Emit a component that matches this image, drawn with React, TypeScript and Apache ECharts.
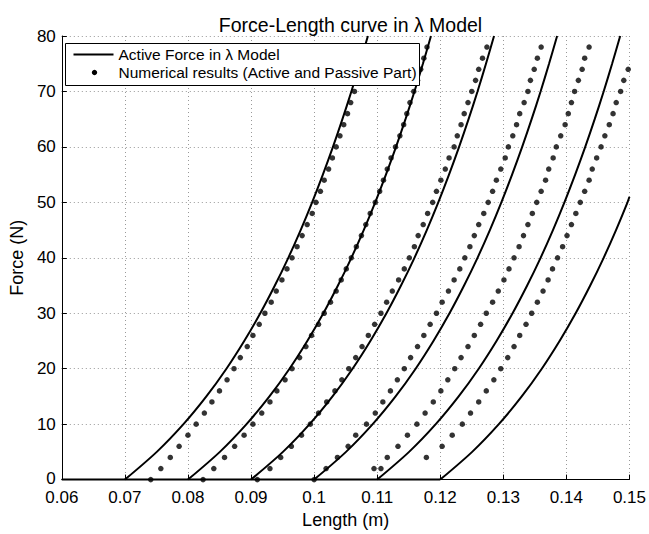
import React, { useEffect, useRef } from "react";
import * as echarts from "echarts";

const FONT = "'Liberation Sans', Arial, Helvetica, sans-serif";

const titleText = "Force-Length curve in λ Model";
const xName = "Length (m)";
const yName = "Force (N)";
const legendActive = "Active Force in λ Model";
const legendNumerical = "Numerical results (Active and Passive Part)";

const xMin = 0.06;
const xMax = 0.15;
const xStep = 0.01;
const yMin = 0;
const yMax = 80;
const yStep = 10;

// zero-force segment of the active curves
const activeBaseline: [number, number][] = [[0.06, 0], [0.12, 0]];

// Active force curves [length, force]
const activeA: [number, number][] = [[0.07, 0], [0.07506, 5], [0.07929, 10], [0.08292, 15], [0.0861, 20], [0.08892, 25], [0.09147, 30], [0.09378, 35], [0.09591, 40], [0.09787, 45], [0.09969, 50], [0.10139, 55], [0.10299, 60], [0.10449, 65], [0.10591, 70], [0.10725, 75], [0.10853, 80]];
const activeB: [number, number][] = [[0.08, 0], [0.08506, 5], [0.08929, 10], [0.09292, 15], [0.0961, 20], [0.09892, 25], [0.10147, 30], [0.10378, 35], [0.10591, 40], [0.10787, 45], [0.10969, 50], [0.11139, 55], [0.11299, 60], [0.11449, 65], [0.11591, 70], [0.11725, 75], [0.11853, 80]];
const activeC: [number, number][] = [[0.09, 0], [0.09506, 5], [0.09929, 10], [0.10292, 15], [0.1061, 20], [0.10892, 25], [0.11147, 30], [0.11378, 35], [0.11591, 40], [0.11787, 45], [0.11969, 50], [0.12139, 55], [0.12299, 60], [0.12449, 65], [0.12591, 70], [0.12725, 75], [0.12853, 80]];
const activeD: [number, number][] = [[0.1, 0], [0.10506, 5], [0.10929, 10], [0.11292, 15], [0.1161, 20], [0.11892, 25], [0.12147, 30], [0.12378, 35], [0.12591, 40], [0.12787, 45], [0.12969, 50], [0.13139, 55], [0.13299, 60], [0.13449, 65], [0.13591, 70], [0.13725, 75], [0.13853, 80]];
const activeE: [number, number][] = [[0.11, 0], [0.11506, 5], [0.11929, 10], [0.12292, 15], [0.1261, 20], [0.12892, 25], [0.13147, 30], [0.13378, 35], [0.13591, 40], [0.13787, 45], [0.13969, 50], [0.14139, 55], [0.14299, 60], [0.14449, 65], [0.14591, 70], [0.14725, 75], [0.14853, 80]];
const activeF: [number, number][] = [[0.12, 0], [0.12506, 5], [0.12929, 10], [0.13292, 15], [0.1361, 20], [0.13892, 25], [0.14147, 30], [0.14378, 35], [0.14591, 40], [0.14787, 45], [0.14969, 50], [0.15, 51]];

// Numerical results [length, force]
const numA: [number, number][] = [[0.0741, 0], [0.0757, 2], [0.0772, 4], [0.0786, 6], [0.08, 8], [0.0813, 10], [0.0826, 12], [0.0838, 14], [0.085, 16], [0.0862, 18], [0.0873, 20], [0.0883, 22], [0.0894, 24], [0.0903, 26], [0.0913, 28], [0.0922, 30], [0.0932, 32], [0.094, 34], [0.0949, 36], [0.0957, 38], [0.0965, 40], [0.0973, 42], [0.0981, 44], [0.0989, 46], [0.0997, 48], [0.1003, 50], [0.101, 52], [0.1016, 54], [0.1023, 56], [0.1029, 58], [0.1035, 60], [0.1041, 62], [0.1047, 64], [0.1053, 66], [0.1058, 68], [0.1064, 70]];
const numB: [number, number][] = [[0.0824, 0], [0.0841, 2], [0.0858, 4], [0.0874, 6], [0.0889, 8], [0.0903, 10], [0.0917, 12], [0.093, 14], [0.0941, 16], [0.0954, 18], [0.0965, 20], [0.0977, 22], [0.0987, 24], [0.0996, 26], [0.1007, 28], [0.1016, 30], [0.1026, 32], [0.1035, 34], [0.1043, 36], [0.1051, 38], [0.1059, 40], [0.1067, 42], [0.1075, 44], [0.1082, 46], [0.1089, 48], [0.1097, 50], [0.1104, 52], [0.111, 54], [0.1116, 56], [0.1122, 58], [0.1129, 60], [0.1136, 62], [0.1142, 64], [0.1147, 66], [0.1152, 68], [0.1158, 70], [0.1164, 72], [0.1169, 74], [0.1174, 76], [0.1179, 78]];
const numC: [number, number][] = [[0.091, 0], [0.093, 2], [0.0947, 4], [0.0964, 6], [0.098, 8], [0.0994, 10], [0.1007, 12], [0.102, 14], [0.1033, 16], [0.1044, 18], [0.1055, 20], [0.1066, 22], [0.1076, 24], [0.1086, 26], [0.1096, 28], [0.1106, 30], [0.1115, 32], [0.1124, 34], [0.1134, 36], [0.1143, 38], [0.1151, 40], [0.1159, 42], [0.1165, 44], [0.1173, 46], [0.118, 48], [0.1188, 50], [0.1194, 52], [0.1201, 54], [0.1208, 56], [0.1214, 58], [0.1222, 60], [0.1227, 62], [0.1233, 64], [0.1238, 66], [0.1244, 68], [0.125, 70], [0.1256, 72], [0.1261, 74], [0.1267, 76], [0.1274, 78]];
const numD: [number, number][] = [[0.1, 0], [0.1019, 2], [0.1037, 4], [0.1054, 6], [0.1066, 8], [0.1083, 10], [0.1097, 12], [0.1109, 14], [0.1121, 16], [0.1132, 18], [0.1143, 20], [0.1153, 22], [0.1164, 24], [0.1174, 26], [0.1184, 28], [0.1194, 30], [0.1203, 32], [0.1213, 34], [0.1222, 36], [0.1231, 38], [0.1239, 40], [0.1247, 42], [0.1254, 44], [0.1261, 46], [0.1269, 48], [0.1276, 50], [0.1283, 52], [0.1289, 54], [0.1296, 56], [0.1303, 58], [0.1308, 60], [0.1315, 62], [0.1321, 64], [0.1326, 66], [0.1333, 68], [0.1339, 70], [0.1343, 72], [0.1349, 74], [0.1354, 76], [0.136, 78]];
const numE: [number, number][] = [[0.1095, 2], [0.1106, 2], [0.1116, 4], [0.1133, 6], [0.1148, 8], [0.1163, 10], [0.1176, 12], [0.1189, 14], [0.1201, 16], [0.1212, 18], [0.1223, 20], [0.1233, 22], [0.1244, 24], [0.1254, 26], [0.1264, 28], [0.1273, 30], [0.1283, 32], [0.1292, 34], [0.1301, 36], [0.1309, 38], [0.1317, 40], [0.1325, 42], [0.1332, 44], [0.1339, 46], [0.1346, 48], [0.1353, 50], [0.136, 52], [0.1367, 54], [0.1372, 56], [0.1379, 58], [0.1384, 60], [0.1391, 62], [0.1398, 64], [0.1403, 66], [0.1408, 68], [0.1413, 70], [0.1419, 72], [0.1425, 74], [0.1429, 76], [0.1436, 78]];
const numF: [number, number][] = [[0.1178, 4], [0.1203, 6], [0.1219, 8], [0.1235, 10], [0.1248, 12], [0.1261, 14], [0.1273, 16], [0.1285, 18], [0.1296, 20], [0.1307, 22], [0.1317, 24], [0.1326, 26], [0.1336, 28], [0.1345, 30], [0.1354, 32], [0.1363, 34], [0.1371, 36], [0.1378, 38], [0.1386, 40], [0.1394, 42], [0.1401, 44], [0.1408, 46], [0.1415, 48], [0.1422, 50], [0.1429, 52], [0.1436, 54], [0.1441, 56], [0.1448, 58], [0.1455, 60], [0.1461, 62], [0.1468, 64], [0.1474, 66], [0.1479, 68], [0.1486, 70], [0.1491, 72], [0.1498, 74]];

const activeCurves = [activeA, activeB, activeC, activeD, activeE, activeF];
const numericalSets = [numA, numB, numC, numD, numE, numF];

export default function App() {
  const ref = useRef<HTMLDivElement>(null);

  useEffect(() => {
    if (!ref.current) return;
    const chart = echarts.init(ref.current, null, { renderer: "svg" });

    const lineSeries: any[] = [
      {
        name: legendActive,
        type: "line",
        data: activeBaseline,
        symbol: "none",
        clip: false,
        lineStyle: { color: "#000", width: 2 },
        z: 3,
      },
      ...activeCurves.map((d) => ({
        name: legendActive,
        type: "line",
        data: d,
        symbol: "none",
        smooth: 0.3,
        clip: false,
        lineStyle: { color: "#000", width: 2 },
        z: 3,
      })),
    ];
    const dotSeries: any[] = numericalSets.map((d) => ({
      name: legendNumerical,
      type: "scatter",
      data: d,
      symbol: "circle",
      symbolSize: 5.5,
      clip: false,
      itemStyle: { color: "#000" },
      z: 4,
    }));

    const lx = 65.5;
    const ly = 43.5;

    chart.setOption({
      animation: false,
      backgroundColor: "#fff",
      textStyle: { fontFamily: FONT },
      title: {
        text: titleText,
        left: 345.5,
        top: 10,
        textAlign: "center",
        textStyle: { fontSize: 19.5, fontWeight: "normal", color: "#000", fontFamily: FONT },
      },
      grid: { left: 61, right: 19, top: 36, bottom: 48, containLabel: false },
      xAxis: {
        type: "value",
        min: xMin,
        max: xMax,
        interval: xStep,
        name: xName,
        nameLocation: "middle",
        nameGap: 26,
        nameTextStyle: { fontSize: 18, color: "#000", fontFamily: FONT },
        axisLine: { show: true, onZero: false, lineStyle: { color: "#000", width: 1 } },
        axisTick: { show: true, inside: true, length: 5, lineStyle: { color: "#000" } },
        axisLabel: {
          color: "#000",
          fontSize: 17,
          lineHeight: 14,
          fontFamily: FONT,
          margin: 11,
          formatter: (v: number) => String(parseFloat(v.toFixed(2))),
        },
        splitLine: { show: true, lineStyle: { color: "#999", type: [1, 3], width: 1 } },
      },
      yAxis: {
        type: "value",
        min: yMin,
        max: yMax,
        interval: yStep,
        name: yName,
        nameLocation: "middle",
        nameGap: 34,
        nameTextStyle: { fontSize: 18, color: "#000", fontFamily: FONT },
        axisLine: { show: true, onZero: false, lineStyle: { color: "#000", width: 1 } },
        axisTick: { show: true, inside: true, length: 5, lineStyle: { color: "#000" } },
        axisLabel: {
          color: "#000",
          fontSize: 17,
          lineHeight: 12,
          fontFamily: FONT,
          margin: 6,
          formatter: (v: number) => (v === 0 ? "{z|0}" : String(v)),
          rich: {
            z: { fontSize: 17, lineHeight: 12, color: "#000", fontFamily: FONT, padding: [0, 0, 2, 0] },
          },
        },
        splitLine: { show: true, lineStyle: { color: "#999", type: [1, 3], width: 1 } },
      },
      legend: { show: false },
      graphic: [
        {
          type: "group",
          z: 100,
          children: [
            {
              type: "rect",
              z: 100,
              shape: { x: lx, y: ly, width: 354, height: 42 },
              style: { fill: "#fff", stroke: "#000", lineWidth: 1 },
            },
            {
              type: "line",
              z: 101,
              shape: { x1: lx + 8, y1: ly + 11, x2: lx + 48, y2: ly + 11 },
              style: { stroke: "#000", lineWidth: 2 },
            },
            {
              type: "text",
              z: 101,
              x: lx + 53,
              y: ly + 11,
              style: {
                text: legendActive,
                fontSize: 15.5,
                fontFamily: FONT,
                fill: "#000",
                textVerticalAlign: "middle",
                verticalAlign: "middle",
              },
            },
            {
              type: "circle",
              z: 101,
              shape: { cx: lx + 29, cy: ly + 29, r: 2.7 },
              style: { fill: "#000" },
            },
            {
              type: "text",
              z: 101,
              x: lx + 53,
              y: ly + 29,
              style: {
                text: legendNumerical,
                fontSize: 15.5,
                fontFamily: FONT,
                fill: "#000",
                textVerticalAlign: "middle",
                verticalAlign: "middle",
              },
            },
          ],
        },
      ],
      series: [...lineSeries, ...dotSeries],
    });

    return () => {
      chart.dispose();
    };
  }, []);

  return (
    <div
      ref={ref}
      style={{ position: "fixed", left: 0, top: 0, width: 649, height: 534, background: "#fff" }}
    />
  );
}
